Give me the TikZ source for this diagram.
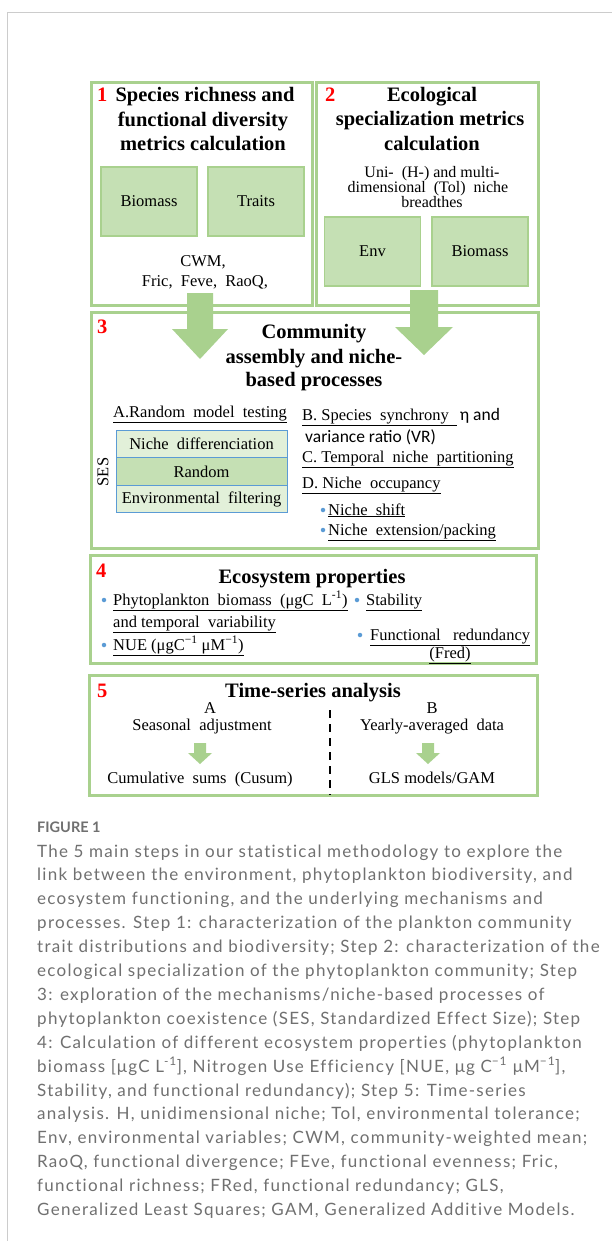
\documentclass[tikz,border=0pt]{standalone}
\usepackage{fontspec}
\setmainfont{Liberation Serif}
\newfontfamily\capfont[LetterSpace=7.5,Ligatures=NoCommon]{Lato}
\newfontfamily\capfontb[Ligatures=NoCommon]{Lato}
\newfontfamily\calfont{Carlito}
\definecolor{frameG}{HTML}{A9D18E}
\definecolor{boxG}{HTML}{C5E0B4}
\definecolor{lightG}{HTML}{E2F0D9}
\definecolor{sesBlue}{HTML}{5B9BD5}
\definecolor{capGray}{HTML}{707070}
\definecolor{rimGray}{HTML}{CCCCCC}
\newcommand\myfs[1]{\fontsize{#1}{#1}\selectfont}
\tikzset{
  stepframe/.style={draw=frameG, line width=3pt, inner sep=0pt},
  subbox/.style={draw=frameG, fill=boxG, line width=1.5pt, minimum width=96pt, minimum height=69pt, inner sep=0pt, font=\myfs{16.5}},
  tbold/.style={font=\myfs{20.5}\bfseries, inner sep=0pt, anchor=base},
  num/.style={font=\myfs{20.5}\bfseries, text=red, inner sep=0pt, anchor=base west},
  body/.style={font=\myfs{16.5}, inner sep=0pt, anchor=base},
  bodyl/.style={body, anchor=base west},
  sesrow/.style={draw=sesBlue, line width=1pt, minimum width=171pt, minimum height=27.67pt, inner sep=0pt, font=\myfs{16.5}},
  bul/.style={circle, fill=sesBlue, inner sep=0pt, minimum size=4.5pt},
  blockarrow/.style={fill=frameG, draw=none},
  divider/.style={draw=black, line width=1.8pt, dash pattern=on 8pt off 6pt},
}
\begin{document}
\begin{tikzpicture}[x=1pt,y=-1pt]
\useasboundingbox (0,0) rectangle (612,1241);
\fill[white] (0,0) rectangle (612,1241);
% outer page rim
\draw[rimGray, line width=1pt] (7.5,1241) -- (7.5,12.5) -- (612,12.5);

% ---- frames
\node[stepframe, minimum width=221pt, minimum height=222pt] (box1) at (201.5,194) {};
\node[stepframe, minimum width=222pt, minimum height=222pt] (box2) at (427,194) {};
\node[stepframe, minimum width=447pt, minimum height=236pt] (box3) at (314.5,430) {};
\node[stepframe, minimum width=446pt, minimum height=108pt] (box4) at (313,609) {};
\node[stepframe, minimum width=448pt, minimum height=120pt] (box5) at (313,735) {};

% ---- box 1
\node[num] (n1) at (97,102) {1};
\node[tbold] (t1a) at (205,102) {Species richness and};
\node[tbold] (t1b) at (203,127) {functional diversity};
\node[tbold] (t1c) at (203,151) {metrics calculation};
\node[subbox] (bio1) at (149,201.5) {Biomass};
\node[subbox] (traits) at (256,201.5) {Traits};
\node[body] (cwm) at (203,266) {CWM,};
\node[body] (fric) at (205,286) {Fric,\ \ Feve,\ \ RaoQ,};

% ---- box 2
\node[num] (n2) at (325,102) {2};
\node[tbold] (t2a) at (432,102) {Ecological};
\node[tbold] (t2b) at (430,126) {specialization metrics};
\node[tbold] (t2c) at (432,151) {calculation};
\node[body, font=\myfs{16}] (u2a) at (432,178) {Uni-\ \ (H-)\ and multi-};
\node[body, font=\myfs{16}] (u2b) at (428,193) {dimensional\ \ (Tol)\ \ niche};
\node[body, font=\myfs{16}] (u2c) at (432,208) {breadthes};
\node[subbox] (env) at (372.5,251.5) {Env};
\node[subbox] (bio2) at (480,251.5) {Biomass};

% ---- box 3
\node[num] (n3) at (97,333) {3};
\node[tbold] (t3a) at (314,338) {Community};
\node[tbold] (t3b) at (314,363) {assembly and niche-};
\node[tbold] (t3c) at (314,386) {based processes};
\node[bodyl] (ta) at (113,417) {\underline{A.Random\ \ model\ \ testing}};
\node[sesrow, fill=lightG] (nd) at (201.5,444) {Niche\ \ differenciation};
\node[sesrow, fill=boxG] (rnd) at (201.5,471.5) {Random};
\node[sesrow, fill=lightG] (ef) at (201.5,499) {Environmental\ \ filtering};
\node[body, anchor=center, rotate=90] (ses) at (103,472) {SES};
\node[bodyl] (tb) at (302,420) {\underline{B.\ Species\ \ synchrony\ \ }\,{\calfont\myfs{17.5}η and}};
\node[bodyl, font=\calfont\myfs{17.5}] (tvr) at (305,442) {variance ratio (VR)};
\node[bodyl] (tc) at (302,462) {\underline{C.\ Temporal\ \ niche\ \ partitioning}};
\node[bodyl] (td) at (302,488) {\underline{D.\ Niche\ \ occupancy}};
\node[bul] (b3a) at (323,510) {};
\node[bodyl] (td1) at (328,515) {\underline{Niche\ \ shift}};
\node[bul] (b3b) at (323,530) {};
\node[bodyl] (td2) at (328,535) {\underline{Niche\ \ extension/packing}};

% ---- box 4
\node[num] (n4) at (96,577) {4};
\node[tbold] (t4) at (312,583) {Ecosystem properties};
\node[bul] (b4a) at (104,600) {};
\node[bodyl] (p4a) at (113,605) {\underline{Phytoplankton\ \ biomass\ \ (μgC\ \ L\textsuperscript{-1})}};
\node[bodyl] (p4b) at (113,627) {\underline{and temporal\ \ variability}};
\node[bul] (b4b) at (357,600) {};
\node[bodyl] (p4c) at (366,605) {\underline{Stability}};
\node[bul] (b4c) at (104,645) {};
\node[bodyl] (p4d) at (113,650) {\underline{NUE (μgC\textsuperscript{−1} μM\textsuperscript{−1})}};
\node[bul] (b4d) at (360,635) {};
\node[bodyl] (p4e) at (370,640) {\underline{Functional\ \ \ redundancy}};
\node[body] (p4f) at (450,658) {\underline{(Fred)}};

% ---- box 5
\node[num] (n5) at (97,697) {5};
\node[tbold] (t5) at (313,697) {Time-series analysis};
\node[body] (a5) at (210,713) {A};
\node[body] (sa) at (202,730) {Seasonal\ \ adjustment};
\node[body] (cus) at (200,783) {Cumulative\ \ sums\ \ (Cusum)};
\node[body] (b5) at (432,713) {B};
\node[body] (ya) at (432,730) {Yearly-averaged\ \ data};
\node[body] (gls) at (432,783) {GLS models/GAM};
\coordinate (dtop) at (330,710);
\coordinate (dbot) at (330,795);
\draw[divider] (dtop) -- (dbot);

% ---- block arrows
\fill[blockarrow] (187,293) -- (213,293) -- (213,329) -- (228,329) -- (200,359) -- (172,329) -- (187,329) -- cycle;
\fill[blockarrow] (410,290) -- (438,290) -- (438,327) -- (453,327) -- (424,355) -- (395,327) -- (410,327) -- cycle;
\fill[blockarrow] (194,743) -- (206,743) -- (206,753) -- (212,753) -- (200,764) -- (188,753) -- (194,753) -- cycle;
\fill[blockarrow] (422,743) -- (434,743) -- (434,753) -- (440,753) -- (428,764) -- (416,753) -- (422,753) -- cycle;

% ---- caption
\node[anchor=base west, inner sep=0pt, text=capGray, font=\capfontb\bfseries\myfs{14.5}] (fig) at (37,832) {FIGURE 1};
\node[anchor=base west, inner sep=0pt, text=capGray, font=\capfont\fontsize{17}{23.9}\selectfont] (cap) at (37,857) {\parbox[t]{600pt}{\raggedright
The 5 main steps in our statistical methodology to explore the\\
link between the environment, phytoplankton biodiversity, and\\
ecosystem functioning, and the underlying mechanisms and\\
processes. Step 1: characterization of the plankton community\\
trait distributions and biodiversity; Step 2: characterization of the\\
ecological specialization of the phytoplankton community; Step\\
3: exploration of the mechanisms/niche-based processes of\\
phytoplankton coexistence (SES, Standardized Effect Size); Step\\
4: Calculation of different ecosystem properties (phytoplankton\\
biomass [μgC L\textsuperscript{-1}], Nitrogen Use Efficiency [NUE, μg C\textsuperscript{−1} μM\textsuperscript{−1}],\\
Stability, and functional redundancy); Step 5: Time-series\\
analysis. H, unidimensional niche; Tol, environmental tolerance;\\
Env, environmental variables; CWM, community-weighted mean;\\
RaoQ, functional divergence; FEve, functional evenness; Fric,\\
functional richness; FRed, functional redundancy; GLS,\\
Generalized Least Squares; GAM, Generalized Additive Models.}};
\end{tikzpicture}
\end{document}
